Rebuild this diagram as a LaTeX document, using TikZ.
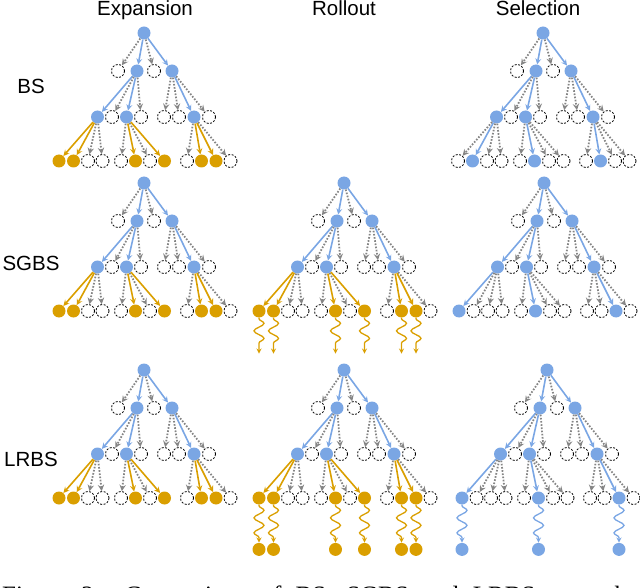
\documentclass[tikz,border=0pt]{standalone}
\usepackage{fontspec}
\setmainfont{Liberation Serif}
\setsansfont{Liberation Sans}
\usepackage{tikz}
\usetikzlibrary{arrows,positioning,decorations.pathmorphing}
\definecolor{beamblue}{HTML}{7AA6E4}
\definecolor{rollgold}{HTML}{DA9F00}
\definecolor{dotgray}{HTML}{858585}
\tikzset{
  every node/.style={font=\sffamily},
  ball/.style={circle,minimum size=13pt,inner sep=0pt},
  hole/.style={ball,draw=black,line width=0.8pt,dash pattern=on 2pt off 1.5pt},
  pick/.style={ball,fill=beamblue},
  roll/.style={ball,fill=rollgold},
  hole-ar/.style={->,>=stealth,draw=dotgray,line width=1.8pt,dash pattern=on 1.6pt off 1.6pt},
  pick-ar/.style={->,>=stealth,draw=beamblue,line width=1.6pt},
  roll-ar/.style={->,>=stealth,draw=rollgold,line width=1.6pt},
  wave/.style={->,>=stealth,line width=1.3pt,decorate,
               decoration={snake,segment length=15pt,amplitude=5pt,pre length=1pt,post length=4pt}},
  roll-wave/.style={wave,draw=rollgold},
  pick-wave/.style={wave,draw=beamblue},
  head/.style={font=\sffamily\fontsize{20.5}{24}\selectfont,anchor=base,inner sep=0pt},
  figcap/.style={font=\rmfamily\fontsize{25}{30}\selectfont,anchor=base west,inner sep=0pt},
}
% one beam-search tree: name, root x, root y, the twelve leaf styles
\newcommand{\beamtree}[4]{%
  \begin{scope}[shift={(#2,#3)}]
  \node[pick] (#1-r) at (0,0) {};
  \foreach \s/\x [count=\i] in {hole/-26,pick/-7,hole/10,pick/28}
    {\node[\s] (#1-a\i) at (\x,38) {}; \draw[\s-ar] (#1-r) -- (#1-a\i);}
  \foreach \s/\x/\pa [count=\i] in {pick/-46.5/2,hole/-32/2,pick/-17.5/2,hole/-3/2,
                                    hole/20/4,hole/35/4,pick/50/4,hole/65/4}
    {\node[\s] (#1-b\i) at (\x,84) {}; \draw[\s-ar] (#1-a\pa) -- (#1-b\i);}
  \foreach \s [count=\i from 0] in {#4} {
    \pgfmathtruncatemacro\gr{int(\i/4)}
    \pgfmathsetmacro\x{{-85,-23,43}[\gr]+14.5*mod(\i,4)}
    \pgfmathtruncatemacro\pa{{1,3,7}[\gr]}
    \node[\s] (#1-c\i) at (\x,128) {};
    \draw[\s-ar] (#1-b\pa) -- (#1-c\i);
  }
  \end{scope}}

\begin{document}
\begin{tikzpicture}[x=1pt,y=-1pt]
\useasboundingbox (0,0) rectangle (640,588);
% column heads
\node[head] (h-exp)  at (145,16) {Expansion};
\node[head] (h-roll) at (344,16) {Rollout};
\node[head] (h-sel)  at (538,16) {Selection};
% row labels
\node[head] (l-bs)   at (31,94)  {BS};
\node[head] (l-sgbs) at (31,270) {SGBS};
\node[head] (l-lrbs) at (31,466) {LRBS};

% BS
\beamtree{bs-e}{144}{33}{roll,roll,hole,hole,hole,roll,hole,roll,hole,roll,roll,hole}
\beamtree{bs-s}{543}{33}{hole,pick,hole,hole,hole,pick,hole,hole,hole,pick,hole,hole}

% SGBS
\beamtree{sg-e}{144}{183}{roll,roll,hole,hole,hole,roll,hole,roll,hole,roll,roll,hole}
\beamtree{sg-r}{344}{183}{roll,roll,hole,hole,hole,roll,hole,roll,hole,roll,roll,hole}
\beamtree{sg-s}{544}{183}{pick,hole,hole,hole,hole,pick,hole,hole,hole,hole,pick,hole}
\foreach \i in {0,1,5,7,9,10} {
  \coordinate[below=36pt of sg-r-c\i] (sg-r-t\i);
  \draw[roll-wave] (sg-r-c\i) -- (sg-r-t\i);
}

% LRBS
\beamtree{lr-e}{144}{370}{roll,roll,hole,hole,hole,roll,hole,roll,hole,roll,roll,hole}
\beamtree{lr-r}{344}{370}{roll,roll,hole,hole,hole,roll,hole,roll,hole,roll,roll,hole}
\beamtree{lr-s}{547}{370}{pick,hole,hole,hole,hole,pick,hole,hole,hole,hole,pick,hole}
\foreach \i in {0,1,5,7,9,10} {
  \node[roll,below=38pt of lr-r-c\i] (lr-r-e\i) {};
  \draw[roll-wave] (lr-r-c\i) -- (lr-r-e\i);
}
\foreach \i in {0,5,10} {
  \node[pick,below=38pt of lr-s-c\i] (lr-s-e\i) {};
  \draw[pick-wave] (lr-s-c\i) -- (lr-s-e\i);
}

% caption, cut by the page edge
\node[figcap] (caption) at (2,603)
  {\makebox[636pt][s]{Figure 2: Comparison of BS, SGBS and LRBS over the}};
\end{tikzpicture}
\end{document}
